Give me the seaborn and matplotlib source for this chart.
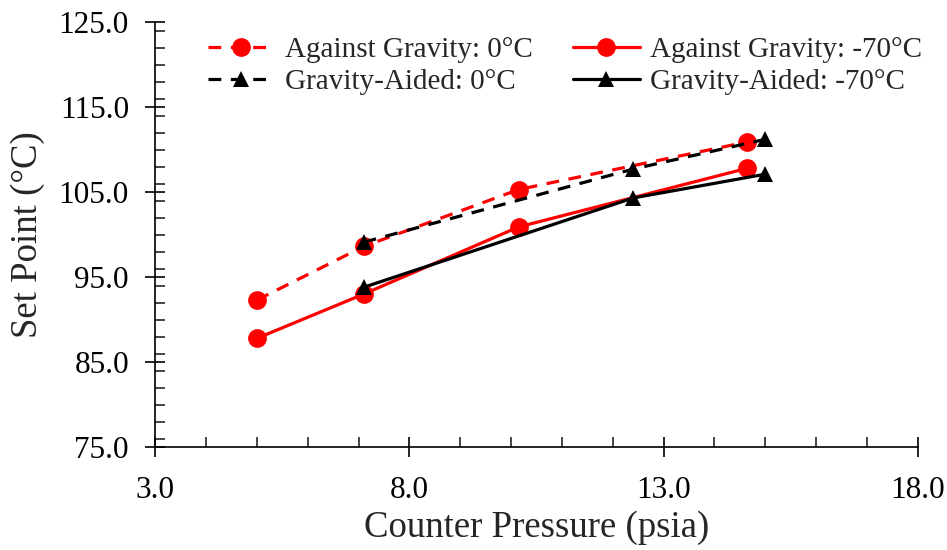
import matplotlib
matplotlib.use("Agg")
import matplotlib.pyplot as plt
import seaborn as sns
from matplotlib.ticker import MultipleLocator, FixedLocator, FormatStrFormatter

sns.set_style("white")
plt.rcParams['font.family'] = ['Liberation Serif', 'DejaVu Serif']

# Data
ag0_x = [5.0, 7.1, 10.15, 14.65]
ag0_y = [92.3, 98.6, 105.3, 110.9]
ag70_x = [5.0, 7.1, 10.15, 14.65]
ag70_y = [87.8, 93.0, 100.9, 107.8]
ga0_x = [7.1, 12.4, 15.0]
ga0_y = [99.1, 107.7, 111.2]
ga70_x = [7.1, 12.4, 15.0]
ga70_y = [93.8, 104.3, 107.1]

labels = ["Against Gravity: 0°C", "Against Gravity: -70°C",
          "Gravity-Aided: 0°C", "Gravity-Aided: -70°C"]
x_ticks = [3, 8, 13, 18]
y_ticks = [75, 85, 95, 105, 115, 125]

fig = plt.figure(figsize=(9.47, 5.5), dpi=100)
ax = fig.add_axes([0.164, 0.187, 0.805, 0.773])

lw = 2.3
dash = (0, (4, 3))
sns.lineplot(x=ag0_x, y=ag0_y, ax=ax, color="#ff0000", linestyle=dash, lw=lw,
             marker="o", markersize=13.5, markeredgewidth=0, label=labels[0], sort=False)
sns.lineplot(x=ag70_x, y=ag70_y, ax=ax, color="#ff0000", linestyle="-", lw=lw,
             marker="o", markersize=13.5, markeredgewidth=0, label=labels[1], sort=False)
sns.lineplot(x=ga0_x, y=ga0_y, ax=ax, color="black", linestyle=dash, lw=lw,
             marker="^", markersize=12, markeredgewidth=0, label=labels[2], sort=False)
sns.lineplot(x=ga70_x, y=ga70_y, ax=ax, color="black", linestyle="-", lw=lw,
             marker="^", markersize=12, markeredgewidth=0, label=labels[3], sort=False)

ax.set_xlim(3, 18)
ax.set_ylim(75, 125)
ax.xaxis.set_major_locator(FixedLocator(x_ticks))
ax.xaxis.set_minor_locator(MultipleLocator(1))
ax.yaxis.set_major_locator(FixedLocator(y_ticks))
ax.yaxis.set_minor_locator(MultipleLocator(2))
ax.xaxis.set_major_formatter(FormatStrFormatter("%.1f"))
ax.yaxis.set_major_formatter(FormatStrFormatter("%.1f"))

for s in ["top", "right"]:
    ax.spines[s].set_visible(False)
for s in ["left", "bottom"]:
    ax.spines[s].set_color("black")
    ax.spines[s].set_linewidth(1.2)

ax.tick_params(axis="both", which="major", direction="inout", length=14, width=1.2,
               labelsize=22.5, colors="black")
ax.tick_params(axis="y", which="major", pad=12)
ax.tick_params(axis="x", which="major", pad=14)
ax.tick_params(axis="both", which="minor", direction="in", length=7, width=1.2)
ax.tick_params(axis="both", which="both", bottom=True, left=True)

ax.set_xlabel("Counter Pressure (psia)", fontsize=26.5, labelpad=4)
ax.set_ylabel("Set Point (°C)", fontsize=26.5, labelpad=10)

h, l = ax.get_legend_handles_labels()
order = [0, 2, 1, 3]
ax.legend([h[i] for i in order], [l[i] for i in order], ncol=2, loc="upper left",
          bbox_to_anchor=(0.035, 1.028), frameon=False, fontsize=21, handlelength=2.27,
          columnspacing=1.4, labelspacing=0.2, handletextpad=0.35)

fig.savefig("out.png", dpi=100)
